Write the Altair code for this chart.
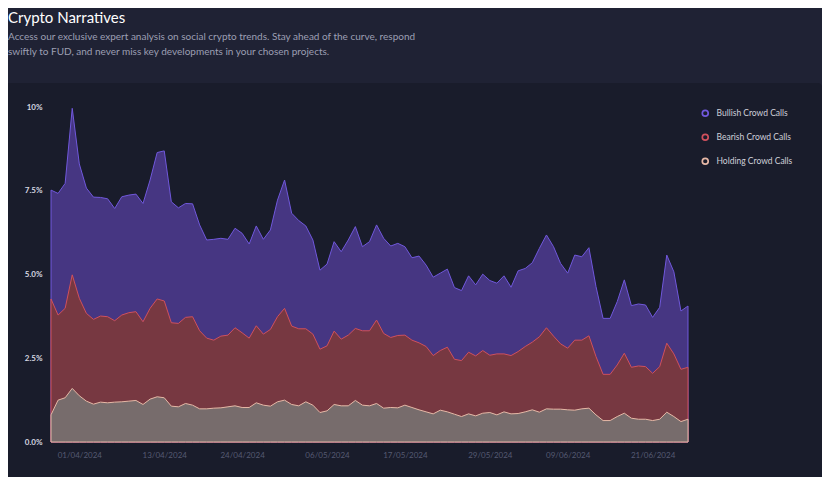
import altair as alt
import pandas as pd

# ---- data (stack top of each band, in %) ----
start_date = "2024-03-28"
n_days = 91
series_names = ["Bullish Crowd Calls", "Bearish Crowd Calls", "Holding Crowd Calls"]

bullish_level = [7.52, 7.42, 7.72, 9.96, 8.30, 7.58, 7.31, 7.30, 7.26, 6.97, 7.32, 7.37, 7.40, 7.12, 7.82, 8.64,
                 8.69, 7.17, 6.99, 7.12, 7.11, 6.48, 6.03,
                 6.05, 6.08, 6.05, 6.38, 6.23, 5.91, 6.45, 6.05, 6.33, 7.22, 7.82, 6.83, 6.61, 6.45, 6.03, 5.13,
                 5.31, 5.98, 5.68, 6.03, 6.43, 5.83, 5.98,
                 6.48, 6.08, 5.85, 5.93, 5.83, 5.50, 5.55, 5.28, 4.92, 5.04, 5.16, 4.61, 4.52, 4.96, 4.69, 5.01,
                 4.82, 4.74, 4.96, 4.62, 5.11, 5.18,
                 5.35, 5.78, 6.18, 5.83, 5.33, 5.04, 5.58, 5.53, 5.80, 4.64, 3.69, 3.69, 4.19, 4.84, 4.07, 4.12,
                 4.09, 3.72, 4.02, 5.58, 5.08, 3.91, 4.06]

bearish_level = [4.27, 3.79, 3.99, 4.99, 4.29, 3.84, 3.66, 3.76, 3.74, 3.62, 3.79, 3.86, 3.89, 3.59, 3.99, 4.27,
                 4.21, 3.56, 3.54, 3.72, 3.74, 3.32, 3.10,
                 3.04, 3.16, 3.19, 3.41, 3.26, 3.10, 3.47, 3.22, 3.36, 3.74, 3.99, 3.46, 3.38, 3.38, 3.22, 2.77,
                 2.87, 3.31, 3.07, 3.19, 3.39, 3.32, 3.32,
                 3.64, 3.24, 3.12, 3.18, 3.19, 3.04, 2.96, 2.85, 2.58, 2.73, 2.83, 2.47, 2.43, 2.68, 2.57, 2.73,
                 2.59, 2.63, 2.63, 2.58, 2.70, 2.85,
                 2.98, 3.14, 3.41, 3.16, 2.93, 2.80, 3.04, 3.04, 3.17, 2.55, 2.02, 2.02, 2.30, 2.65, 2.23, 2.27,
                 2.25, 2.05, 2.25, 2.95, 2.63, 2.17, 2.23]

holding_level = [0.81, 1.25, 1.32, 1.60, 1.38, 1.22, 1.13, 1.19, 1.17, 1.19, 1.20, 1.22, 1.24, 1.12, 1.28, 1.35,
                 1.32, 1.07, 1.05, 1.15, 1.10, 0.99, 0.99,
                 1.01, 1.02, 1.05, 1.08, 1.03, 1.03, 1.17, 1.10, 1.07, 1.20, 1.25, 1.12, 1.08, 1.20, 1.10, 0.88,
                 0.93, 1.12, 1.08, 1.08, 1.24, 1.10, 1.08,
                 1.15, 1.01, 1.03, 1.02, 1.10, 1.03, 0.96, 0.90, 0.84, 0.95, 0.90, 0.83, 0.76, 0.84, 0.78, 0.86,
                 0.88, 0.81, 0.90, 0.84, 0.85, 0.90,
                 0.96, 0.89, 0.99, 0.98, 0.98, 0.96, 0.95, 0.99, 1.01, 0.81, 0.64, 0.64, 0.76, 0.86, 0.71, 0.68,
                 0.68, 0.64, 0.68, 0.89, 0.76, 0.61, 0.68]

x_tick_dates = [(2024, 4, 1), (2024, 4, 13), (2024, 4, 24), (2024, 5, 6),
                (2024, 5, 17), (2024, 5, 29), (2024, 6, 9), (2024, 6, 21)]
y_ticks = [0, 2.5, 5, 7.5, 10]

title_text = "Crypto Narratives"
subtitle_lines = [
    "Access our exclusive expert analysis on social crypto trends. Stay ahead of the curve, respond",
    "swiftly to FUD, and never miss key developments in your chosen projects.",
]

# ---- styling ----
fill_colors = ["#463682", "#773841", "#776c6c"]
line_colors = ["#7058dc", "#d0505c", "#e6b8a6"]
page_bg = "#1f2234"
card_bg = "#191c2b"
font = "Lato"
# thin ring-shaped legend symbol; its outline (series colour) covers the narrow filled band
ring_path = ("M -1 0 A 1 1 0 1 0 1 0 A 1 1 0 1 0 -1 0 Z "
             "M -0.85 0 A 0.85 0.85 0 1 1 0.85 0 A 0.85 0.85 0 1 1 -0.85 0 Z")

dates = pd.date_range(start_date, periods=n_days, freq="D").strftime("%Y-%m-%d").tolist()
frames = []
for name, vals in zip(series_names, [bullish_level, bearish_level, holding_level]):
    frames.append(pd.DataFrame({"date": dates, "series": name, "value": vals}))
df = pd.concat(frames, ignore_index=True)

x_enc = alt.X(
    "date:T",
    scale=alt.Scale(type="utc", nice=False),
    axis=alt.Axis(
        values=[alt.DateTime(year=y, month=m, date=d, utc=True) for (y, m, d) in x_tick_dates],
        labelExpr="utcFormat(datum.value, '%d/%m/%Y')",
        grid=False, domain=False, ticks=False, labelPadding=9, zindex=2,
        labelFontSize=8, labelColor="#555a72", labelFont=font,
    ),
    title=None,
)
y_enc = alt.Y(
    "value:Q",
    scale=alt.Scale(domain=[0, 10], nice=False),
    axis=alt.Axis(
        values=y_ticks,
        labelExpr="datum.value == 10 ? '10%' : format(datum.value, '.1f') + '%'",
        grid=False, domain=False, ticks=False, labelPadding=9, zindex=2,
        labelFontSize=8, labelFontWeight="bold", labelColor="#d6d7e0", labelFont=font,
    ),
    title=None,
)
stroke_enc = alt.Stroke(
    "series:N",
    scale=alt.Scale(domain=series_names, range=line_colors),
    legend=alt.Legend(
        title=None, orient="none", legendX=650, legendY=2, zindex=3,
        symbolType=ring_path, symbolSize=41, symbolStrokeWidth=1.2,
        labelFontSize=8.5, labelColor="#cfd0da", labelFont=font, labelOffset=7,
        rowPadding=12,
    ),
)

card = alt.Chart(pd.DataFrame({"k": [0]})).mark_rect(color=card_bg, cornerRadius=4).encode(
    x=alt.value(-46), x2=alt.value(771), y=alt.value(-24), y2=alt.value(373)
)

layers = [card]
for i, name in enumerate(series_names):
    layers.append(
        alt.Chart(df)
        .transform_filter(alt.datum.series == name)
        .mark_area(fill=fill_colors[i], fillOpacity=1, strokeWidth=1, strokeJoin="round")
        .encode(x=x_enc, y=y_enc, stroke=stroke_enc)
    )

chart = (
    alt.layer(*layers)
    .properties(
        width=637,
        height=335,
        autosize=alt.AutoSizeParams(type="none"),
        padding={"left": 43, "top": 99, "right": 134, "bottom": 35},
        background=page_bg,
        title=alt.TitleParams(
            text=title_text, subtitle=subtitle_lines, anchor="start", frame="group",
            dx=-43, offset=26, font=font, fontSize=15, fontWeight="normal", color="#ffffff",
            subtitleFont=font, subtitleFontSize=10, subtitleColor="#9c9fb3",
            subtitleLineHeight=15, subtitlePadding=6,
        ),
    )
    .configure_view(stroke=None)
)

chart.save("out.html", embed_options={"renderer": "svg", "actions": False})
